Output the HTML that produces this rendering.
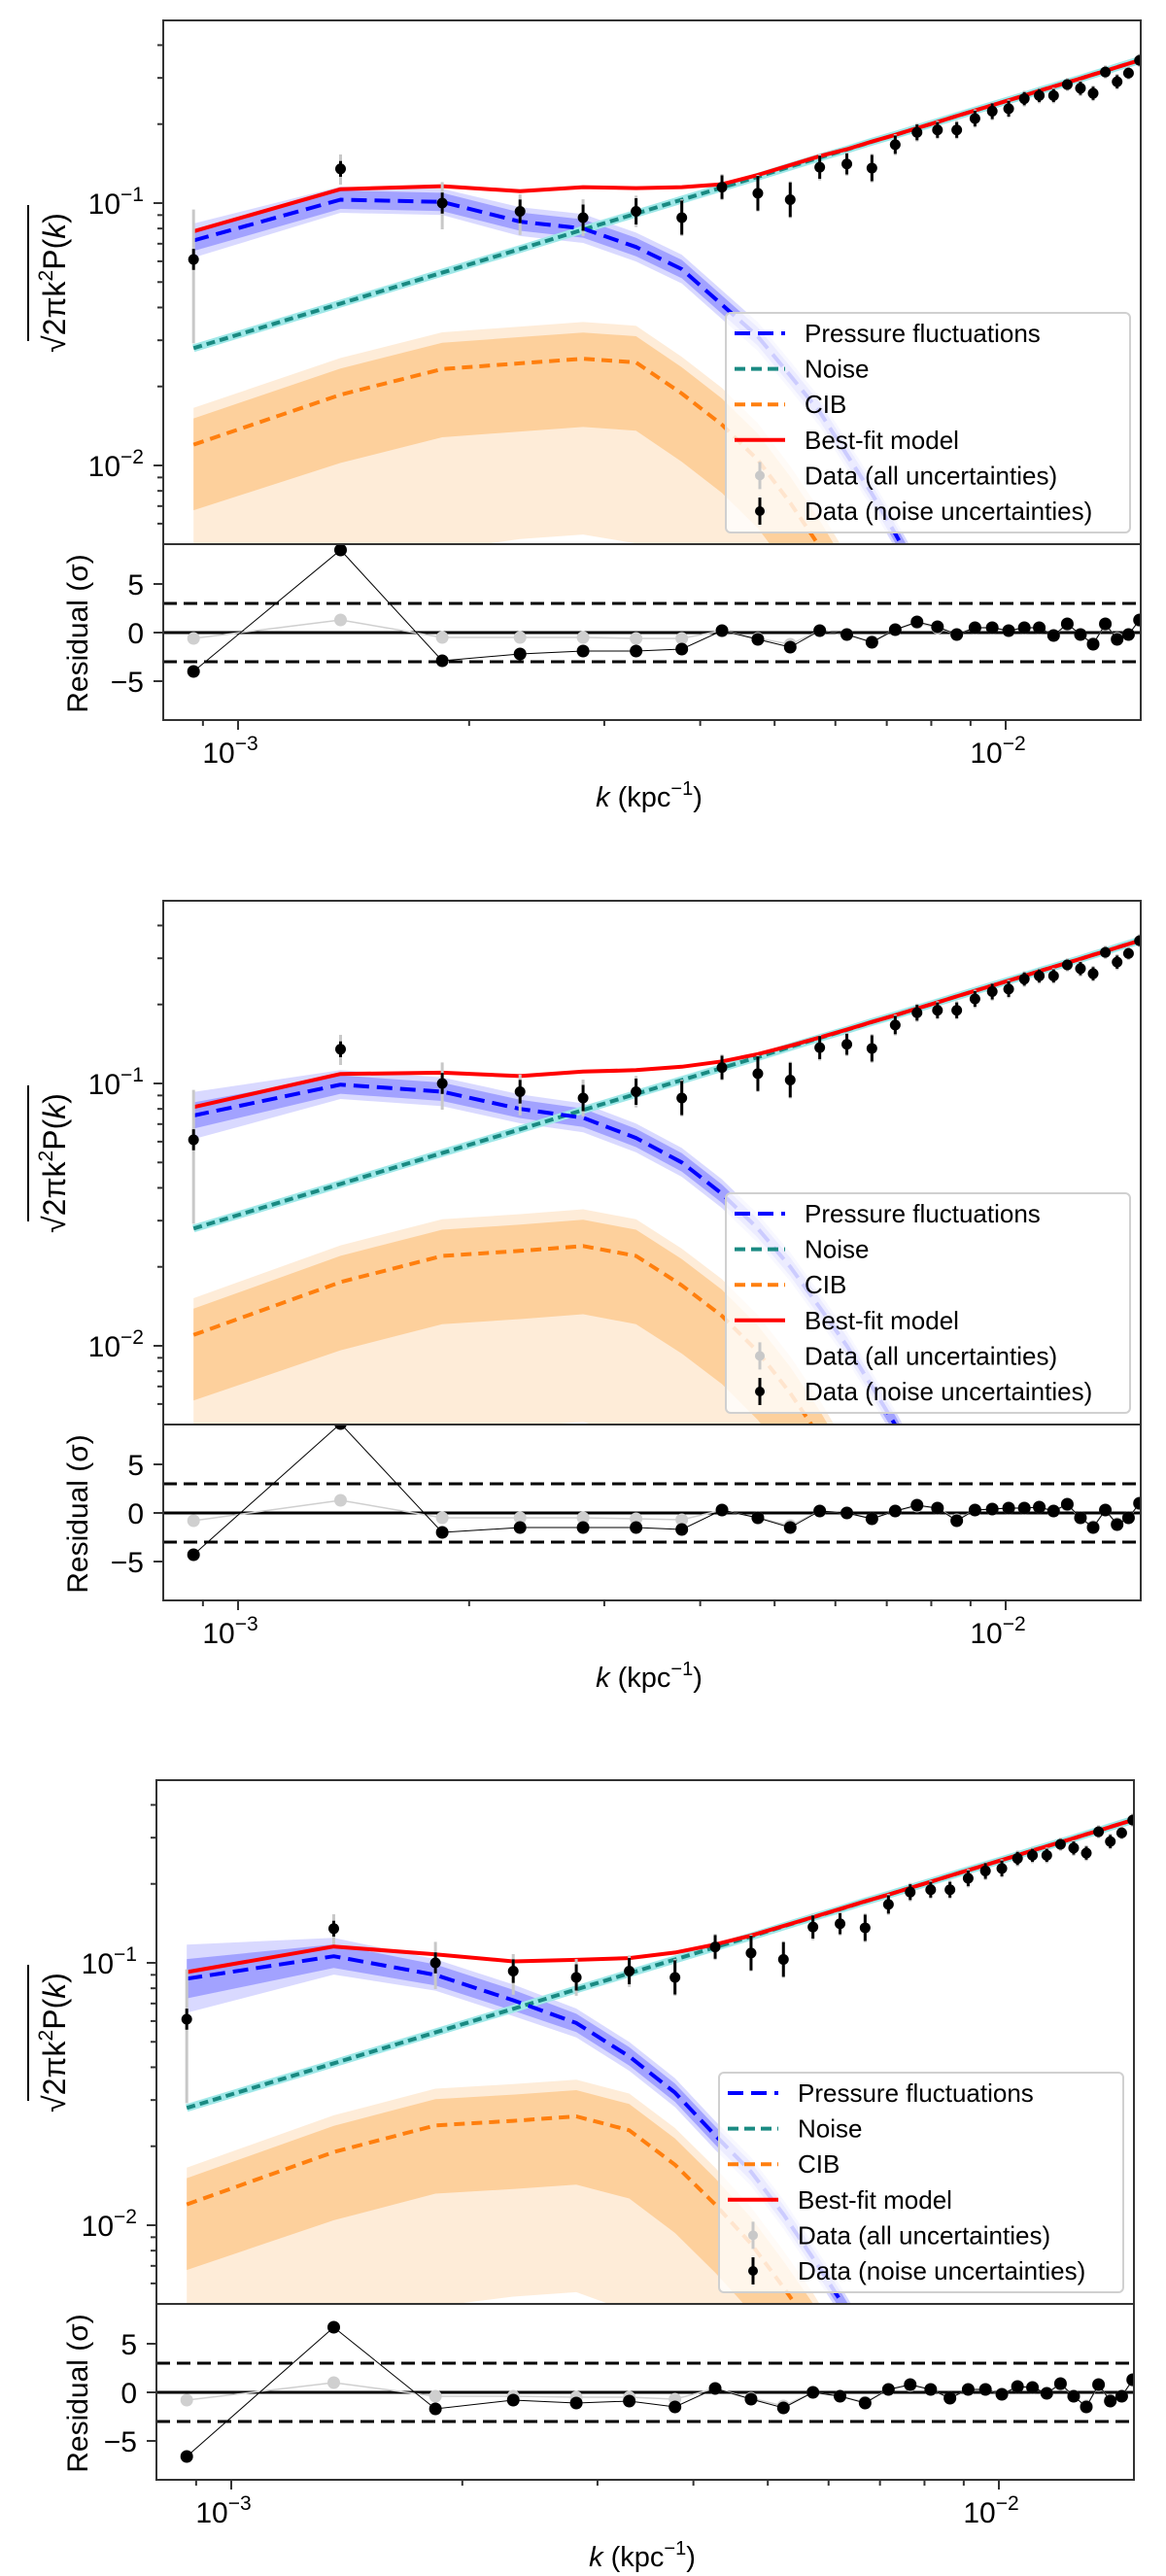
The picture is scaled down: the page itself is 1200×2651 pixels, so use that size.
<!DOCTYPE html>
<html><head><meta charset="utf-8">
<style>
html,body{margin:0;padding:0;background:#fff;overflow:hidden;width:1200px;height:2651px;}
svg{display:block;font-family:"Liberation Sans","DejaVu Sans",sans-serif;}
</style></head>
<body>
<svg id="fig" width="1200" height="2651" viewBox="0 0 1200 2651" xmlns="http://www.w3.org/2000/svg" overflow="hidden">
<defs></defs>
</svg>
<script>
// ---- shared data ----
const kValues=[0.000875,0.00136,0.001845,0.00233,0.002815,0.0033,0.003785,0.00427,0.004755,0.00524,0.005725,0.00621,0.006695,0.00718,0.007665,0.00815,0.008635,0.00912,0.009605,0.01009,0.010575,0.01106,0.011545,0.01203,0.012515,0.013,0.013485,0.01397,0.014455,0.01494];
const dataValues=[0.061,0.135,0.100,0.093,0.088,0.093,0.088,0.115,0.109,0.103,0.137,0.141,0.136,0.167,0.186,0.19,0.19,0.21,0.224,0.229,0.25,0.257,0.257,0.283,0.274,0.262,0.316,0.29,0.313,0.35];
const errNoiseDex=[0.04,0.03,0.04,0.045,0.05,0.05,0.065,0.045,0.066,0.066,0.044,0.04,0.05,0.035,0.03,0.03,0.03,0.03,0.03,0.03,0.025,0.025,0.025,0.02,0.025,0.025,0.02,0.025,0.02,0.02];
const errAllUpDex=[0.19,0.055,0.08,0.065,0.07,0.06,0.07,0.05,0.07,0.07,0.05,0.045,0.055,0.04,0.035,0.035,0.035,0.035,0.035,0.035,0.03,0.03,0.03,0.025,0.03,0.03,0.025,0.03,0.025,0.025];
const errAllDnDex=[0.32,0.06,0.1,0.09,0.07,0.06,0.07,0.05,0.07,0.07,0.05,0.045,0.055,0.04,0.035,0.035,0.035,0.035,0.035,0.035,0.03,0.03,0.03,0.025,0.03,0.03,0.025,0.03,0.025,0.025];
const noiseModel=[0.028,0.0414,0.0543,0.0668,0.0792,0.0912,0.103,0.1146,0.126,0.1377,0.149,0.160,0.1714,0.182,0.193,0.2037,0.2147,0.2254,0.236,0.2466,0.257,0.268,0.278,0.2884,0.2985,0.309,0.319,0.3296,0.34,0.35];
const cibInUpDex=[0.1,0.1,0.1,0.1,0.1,0.1,0.1,0.1,0.1,0.1,0.1,0.1,0.1,0.1,0.1,0.1,0.1,0.1,0.1,0.1,0.1,0.1,0.1,0.1,0.1,0.1,0.1,0.1,0.1,0.1];
const cibInDnDex=[0.25,0.26,0.26,0.26,0.26,0.26,0.26,0.26,0.26,0.26,0.26,0.26,0.26,0.26,0.26,0.26,0.26,0.26,0.26,0.26,0.26,0.26,0.26,0.26,0.26,0.26,0.26,0.26,0.26,0.26];
const cibOutUpDex=[0.14,0.14,0.14,0.14,0.14,0.14,0.14,0.14,0.14,0.14,0.14,0.14,0.14,0.14,0.14,0.14,0.14,0.14,0.14,0.14,0.14,0.14,0.14,0.14,0.14,0.14,0.14,0.14,0.14,0.14];
const cibOutDnDex=[0.75,0.75,0.69,0.67,0.67,0.69,0.7,0.7,0.7,0.7,0.7,0.7,0.7,0.7,0.7,0.7,0.7,0.7,0.7,0.7,0.7,0.7,0.7,0.7,0.7,0.7,0.7,0.7,0.7,0.7];
// ---- panel 1 ----
const press1=[0.072,0.103,0.101,0.085,0.080,0.068,0.056,0.041,0.031,0.022,0.016,0.011,0.0078,0.0055,0.0039,0.0028,0.0020,0.0015,0.0011,0.0008,0.0006,0.00045,0.00034,0.00026,0.0002,0.00015,0.00012,0.0001,0.00008,0.00006];
const cib1=[0.012,0.0186,0.0233,0.0245,0.0255,0.0247,0.0188,0.0143,0.0105,0.0072,0.0049,0.0033,0.0022,0.0015,0.001,0.0007,0.0005,0.00035,0.00025,0.00018,0.00013,0.0001,0.00008,0.00006,0.00005,0.00004,0.00003,0.00002,0.00002,0.00001];
const best1=[0.078,0.113,0.116,0.111,0.115,0.114,0.115,0.118,0.128,0.1396,0.151,0.1604,0.1716,0.182,0.193,0.2037,0.2147,0.2254,0.236,0.2466,0.257,0.268,0.278,0.2884,0.2985,0.309,0.319,0.3296,0.34,0.35];
const pressIn1=[0.04,0.035,0.035,0.035,0.035,0.035,0.035,0.035,0.035,0.035,0.035,0.035,0.035,0.035,0.035,0.035,0.035,0.035,0.035,0.035,0.035,0.035,0.035,0.035,0.035,0.035,0.035,0.035,0.035,0.035];
const pressOut1=[0.065,0.05,0.05,0.055,0.055,0.055,0.055,0.055,0.055,0.055,0.055,0.055,0.055,0.055,0.055,0.055,0.055,0.055,0.055,0.055,0.055,0.055,0.055,0.055,0.055,0.055,0.055,0.055,0.055,0.055];
const resid1=[-4.0,8.5,-2.9,-2.2,-1.9,-1.9,-1.7,0.2,-0.7,-1.5,0.2,-0.2,-1.0,0.3,1.1,0.6,-0.2,0.5,0.5,0.2,0.5,0.5,-0.3,0.9,-0.2,-1.2,0.9,-0.7,-0.2,1.3];
const residAll1=[-0.6,1.3,-0.5,-0.5,-0.5,-0.6,-0.6,0.2,-0.6,-1.2,0.2,-0.2,-0.9,0.3,1.0,0.5,-0.2,0.5,0.5,0.2,0.5,0.5,-0.3,0.8,-0.2,-1.1,0.8,-0.6,-0.2,1.2];
// ---- panel 2 ----
const press2=[0.0755,0.099,0.093,0.080,0.074,0.062,0.050,0.038,0.028,0.020,0.014,0.010,0.007,0.005,0.0035,0.0025,0.0018,0.0013,0.0009,0.00065,0.0005,0.00035,0.00026,0.0002,0.00015,0.00011,0.00009,0.00007,0.00005,0.00004];
const cib2=[0.011,0.0175,0.022,0.023,0.024,0.022,0.017,0.013,0.0095,0.0066,0.0045,0.003,0.002,0.0014,0.001,0.0007,0.0005,0.00035,0.00025,0.00018,0.00013,0.0001,0.00008,0.00006,0.00005,0.00004,0.00003,0.00002,0.00002,0.00001];
const best2=[0.0813,0.1087,0.1099,0.1067,0.111,0.1124,0.1158,0.1214,0.1294,0.1392,0.1497,0.1604,0.1716,0.182,0.193,0.2037,0.2147,0.2254,0.236,0.2466,0.257,0.268,0.278,0.2884,0.2985,0.309,0.319,0.3296,0.34,0.35];
const pressIn2=[0.05,0.035,0.035,0.035,0.035,0.035,0.035,0.035,0.035,0.035,0.035,0.035,0.035,0.035,0.035,0.035,0.035,0.035,0.035,0.035,0.035,0.035,0.035,0.035,0.035,0.035,0.035,0.035,0.035,0.035];
const pressOut2=[0.09,0.055,0.055,0.055,0.055,0.055,0.055,0.055,0.055,0.055,0.055,0.055,0.055,0.055,0.055,0.055,0.055,0.055,0.055,0.055,0.055,0.055,0.055,0.055,0.055,0.055,0.055,0.055,0.055,0.055];
const resid2=[-4.3,9.2,-2.0,-1.5,-1.5,-1.5,-1.7,0.3,-0.5,-1.5,0.2,0.0,-0.6,0.2,0.8,0.5,-0.8,0.3,0.4,0.5,0.5,0.6,0.2,0.9,-0.5,-1.5,0.3,-1.2,-0.5,1.0];
const residAll2=[-0.8,1.3,-0.5,-0.5,-0.5,-0.6,-0.7,0.3,-0.5,-1.3,0.2,0.0,-0.6,0.2,0.7,0.5,-0.7,0.3,0.4,0.5,0.5,0.6,0.2,0.8,-0.5,-1.4,0.3,-1.1,-0.5,0.9];
// ---- panel 3 ----
const press3=[0.087,0.106,0.090,0.072,0.059,0.044,0.032,0.022,0.016,0.011,0.0075,0.0052,0.0036,0.0025,0.0017,0.0012,0.0009,0.0006,0.00045,0.00032,0.00024,0.00018,0.00013,0.0001,0.00008,0.00006,0.00005,0.00004,0.00003,0.00002];
const cib3=[0.012,0.019,0.024,0.025,0.026,0.023,0.017,0.012,0.0085,0.0058,0.004,0.0027,0.0018,0.0012,0.0008,0.0006,0.0004,0.0003,0.0002,0.00015,0.0001,0.00008,0.00006,0.00005,0.00004,0.00003,0.00002,0.00002,0.00001,0.00001];
const best3=[0.0922,0.1154,0.1078,0.1013,0.1027,0.1043,0.1095,0.1175,0.1271,0.1382,0.1493,0.1604,0.1716,0.182,0.193,0.2037,0.2147,0.2254,0.236,0.2466,0.257,0.268,0.278,0.2884,0.2985,0.309,0.319,0.3296,0.34,0.35];
const pressIn3=[0.075,0.045,0.04,0.04,0.035,0.035,0.035,0.035,0.035,0.035,0.035,0.035,0.035,0.035,0.035,0.035,0.035,0.035,0.035,0.035,0.035,0.035,0.035,0.035,0.035,0.035,0.035,0.035,0.035,0.035];
const pressOut3=[0.13,0.07,0.06,0.06,0.055,0.055,0.055,0.055,0.055,0.055,0.055,0.055,0.055,0.055,0.055,0.055,0.055,0.055,0.055,0.055,0.055,0.055,0.055,0.055,0.055,0.055,0.055,0.055,0.055,0.055];
const resid3=[-6.6,6.7,-1.7,-0.8,-1.1,-0.9,-1.5,0.4,-0.7,-1.6,0.0,-0.4,-1.1,0.3,0.8,0.3,-0.6,0.3,0.3,-0.2,0.6,0.5,-0.1,0.9,-0.4,-1.5,0.8,-0.9,-0.4,1.3];
const residAll3=[-0.8,1.0,-0.4,-0.4,-0.5,-0.5,-0.7,0.4,-0.6,-1.4,0.0,-0.4,-1.0,0.3,0.7,0.3,-0.6,0.3,0.3,-0.2,0.6,0.5,-0.1,0.8,-0.4,-1.4,0.7,-0.8,-0.4,1.2];
const yTickLabels=["−2","−1"];
const xTickLabels=["−3","−2"];
const residTicks=[-5,0,5];
const legendLabels=["Pressure fluctuations","Noise","CIB","Best-fit model","Data (all uncertainties)","Data (noise uncertainties)"];

const NS="http://www.w3.org/2000/svg";
const svg=document.getElementById('fig');
const defs=svg.querySelector('defs');
function mk(tag,attrs,parent){const e=document.createElementNS(NS,tag);for(const a in attrs)e.setAttribute(a,attrs[a]);(parent||svg).appendChild(e);return e;}
const L=Math.log10;

function drawPanel(idx,ox,oy,press,cib,best,pIn,pOut,res,resAll){
  const X=k=>ox+245+790*(L(k)+3);
  const Y=v=>oy+209-270*(L(v)+1);
  const R=r=>oy+651-10*r;
  const left=ox+168,right=ox+1174,top=oy+21,mb=oy+560,rb=oy+741;
  const g=mk('g',{});
  
  
  const cp=mk('clipPath',{id:'cm'+idx},defs);mk('rect',{x:left,y:top,width:right-left,height:mb-top},cp);
  const cr=mk('clipPath',{id:'cr'+idx},defs);mk('rect',{x:left,y:mb,width:right-left,height:rb-mb},cr);
  const main=mk('g',{'clip-path':'url(#cm'+idx+')'},g);
  
  
  const band=(c,up,dn,fill,name)=>{
    let d='';
    kValues.forEach((k,i)=>{d+=(i?'L':'M')+X(k).toFixed(1)+' '+Y(c[i]*Math.pow(10,up[i])).toFixed(1);});
    for(let i=kValues.length-1;i>=0;i--)d+='L'+X(kValues[i]).toFixed(1)+' '+Y(c[i]/Math.pow(10,dn[i])).toFixed(1);
    const p=mk('path',{d:d+'Z',fill:fill,stroke:'none'},main);
    
    
  };
  const line=(c,stroke,w,dash,name,op)=>{
    const d=kValues.map((k,i)=>(i?'L':'M')+X(k).toFixed(1)+' '+Y(c[i]).toFixed(1)).join('');
    const p=mk('path',{d:d,fill:'none',stroke:stroke,'stroke-width':w,'stroke-dasharray':dash||'none','stroke-linejoin':'round',opacity:op||1},main);
    
    
  };
  band(cib,cibOutUpDex,cibOutDnDex,'#feecd8','cib-outer-band');
  band(cib,cibInUpDex,cibInDnDex,'#fdd09c','cib-inner-band');
  band(press,pOut,pOut,'rgba(0,0,255,0.15)','pressure-outer-band');
  band(press,pIn,pIn,'rgba(0,0,255,0.25)','pressure-inner-band');
  line(noiseModel,'#9fe8e8',8,null,'noise-band');
  line(noiseModel,'#1a8a82',4,'9 5','noise-line');
  line(cib,'#ff7f0e',4,'11 7','cib-line');
  line(press,'#0000ff',4,'16 8','pressure-line');
  line(best,'#ff0000',4,null,'best-fit-line');
  kValues.forEach((k,i)=>{
    const x=X(k),v=dataValues[i];
    const ga=mk('line',{x1:x,x2:x,y1:Y(v*Math.pow(10,errAllUpDex[i])),y2:Y(v/Math.pow(10,errAllDnDex[i])),stroke:'#c8c8c8','stroke-width':3},main);
    
    
  });
  kValues.forEach((k,i)=>{
    const x=X(k),v=dataValues[i];
    const eb=mk('line',{x1:x,x2:x,y1:Y(v*Math.pow(10,errNoiseDex[i])),y2:Y(v/Math.pow(10,errNoiseDex[i])),stroke:'#000','stroke-width':3},main);
    
    
    const c=mk('circle',{cx:x,cy:Y(v),r:5.5,fill:'#000'},main);
    
    
  });
  // legend
  const lg=mk('g',{},g);
  
  
  mk('rect',{x:ox+747,y:oy+322,width:416,height:226,rx:5,fill:'rgba(255,255,255,0.8)',stroke:'#d0d0d0','stroke-width':2},lg);
  const hs=[['#0000ff','16 8'],['#1a8a82','11 6'],['#ff7f0e','11 6'],['#ff0000',null]];
  legendLabels.forEach((t,i)=>{
    const yy=oy+343+36.6*i;
    if(i<4){mk('line',{x1:ox+756,x2:ox+808,y1:yy,y2:yy,stroke:hs[i][0],'stroke-width':4,'stroke-dasharray':hs[i][1]||'none'},lg);}
    else{const col=i==4?'#c8c8c8':'#000';mk('line',{x1:ox+782,x2:ox+782,y1:yy-14,y2:yy+14,stroke:col,'stroke-width':3},lg);mk('circle',{cx:ox+782,cy:yy,r:5,fill:col},lg);}
    const tx=mk('text',{x:ox+828,y:yy+9,'font-size':26,fill:'#000'},lg);tx.textContent=t;
    
    
  });
  mk('rect',{x:left,y:top,width:right-left,height:mb-top,fill:'none',stroke:'#333','stroke-width':2},g);
  // residual panel
  const rg=mk('g',{'clip-path':'url(#cr'+idx+')'},g);
  
  
  [3,-3].forEach(v=>mk('line',{x1:left,x2:right,y1:R(v),y2:R(v),stroke:'#000','stroke-width':3,'stroke-dasharray':'14 7'},rg));
  mk('line',{x1:left,x2:right,y1:R(0),y2:R(0),stroke:'#000','stroke-width':3},rg);
  mk('path',{d:kValues.map((k,i)=>(i?'L':'M')+X(k).toFixed(1)+' '+R(resAll[i]).toFixed(1)).join(''),fill:'none',stroke:'#cfcfcf','stroke-width':1.5},rg);
  kValues.forEach((k,i)=>{const c=mk('circle',{cx:X(k),cy:R(resAll[i]),r:6.5,fill:'#cfcfcf'},rg);
    
    });
  mk('path',{d:kValues.map((k,i)=>(i?'L':'M')+X(k).toFixed(1)+' '+R(res[i]).toFixed(1)).join(''),fill:'none',stroke:'#000','stroke-width':1},rg);
  kValues.forEach((k,i)=>{const c=mk('circle',{cx:X(k),cy:R(res[i]),r:6.5,fill:'#000'},rg);
    
    });
  mk('rect',{x:left,y:mb,width:right-left,height:rb-mb,fill:'none',stroke:'#333','stroke-width':2},g);
  // y ticks main
  const tk=(x1,y1,x2,y2)=>mk('line',{x1,y1,x2,y2,stroke:'#333','stroke-width':2},g);
  [-2,-1].forEach((e,j)=>{
    tk(left-10,Y(Math.pow(10,e)),left,Y(Math.pow(10,e)));
    const t=mk('text',{x:left-20,y:Y(Math.pow(10,e))+11,'font-size':30,'text-anchor':'end'},g);
    t.textContent='10';const s=mk('tspan',{dy:-13,'font-size':21},t);s.textContent=yTickLabels[j];
    
    
  });
  [0.006,0.007,0.008,0.009,0.02,0.03,0.04,0.05,0.06,0.07,0.08,0.09,0.2,0.3,0.4].forEach(v=>tk(left-6,Y(v),left,Y(v)));
  residTicks.forEach(v=>{tk(left-10,R(v),left,R(v));
    const t=mk('text',{x:left-20,y:R(v)+11,'font-size':30,'text-anchor':'end'},g);t.textContent=v<0?'−'+Math.abs(v):String(v);
    
    });
  [-3,-2].forEach((e,j)=>{const x=X(Math.pow(10,e));tk(x,rb,x,rb+10);
    const t=mk('text',{x:x-8,y:rb+44,'font-size':30,'text-anchor':'middle'},g);t.textContent='10';
    const s=mk('tspan',{dy:-13,'font-size':21},t);s.textContent=xTickLabels[j];
    
    });
  [0.0009,0.002,0.003,0.004,0.005,0.006,0.007,0.008,0.009].forEach(v=>{const x=X(v);tk(x,rb,x,rb+6);});
  // axis labels
  const xl=mk('text',{x:ox+668,y:oy+830,'font-size':29,'text-anchor':'middle'},g);
  
  
  const it=mk('tspan',{'font-style':'italic'},xl);it.textContent='k';
  const t2=mk('tspan',{},xl);t2.textContent=' (kpc';
  const t3=mk('tspan',{dy:-12,'font-size':20},xl);t3.textContent='−1';
  const t4=mk('tspan',{dy:12},xl);t4.textContent=')';
  const yg=mk('g',{transform:'translate(67,'+(oy+291)+') rotate(-90)'},g);
  
  
  const yt=mk('text',{x:0,y:0,'font-size':32,'text-anchor':'middle'},yg);
  const a=mk('tspan',{},yt);a.textContent='√';
  const b=mk('tspan',{},yt);b.textContent='2πk';
  const c2=mk('tspan',{dy:-13,'font-size':21},yt);c2.textContent='2';
  const d2=mk('tspan',{dy:13},yt);d2.textContent='P(';
  const e2=mk('tspan',{'font-style':'italic'},yt);e2.textContent='k';
  const f2=mk('tspan',{},yt);f2.textContent=')';
  mk('line',{x1:-60,x2:80,y1:-38,y2:-38,stroke:'#000','stroke-width':2},yg);
  const rl=mk('text',{transform:'translate(90,'+(oy+652)+') rotate(-90)','font-size':30,'text-anchor':'middle'},g);
  rl.textContent='Residual (σ)';
  
  
}
drawPanel(1,0,0,press1,cib1,best1,pressIn1,pressOut1,resid1,residAll1);
drawPanel(2,0,906,press2,cib2,best2,pressIn2,pressOut2,resid2,residAll2);
drawPanel(3,-7,1811,press3,cib3,best3,pressIn3,pressOut3,resid3,residAll3);
</script>
</body></html>
